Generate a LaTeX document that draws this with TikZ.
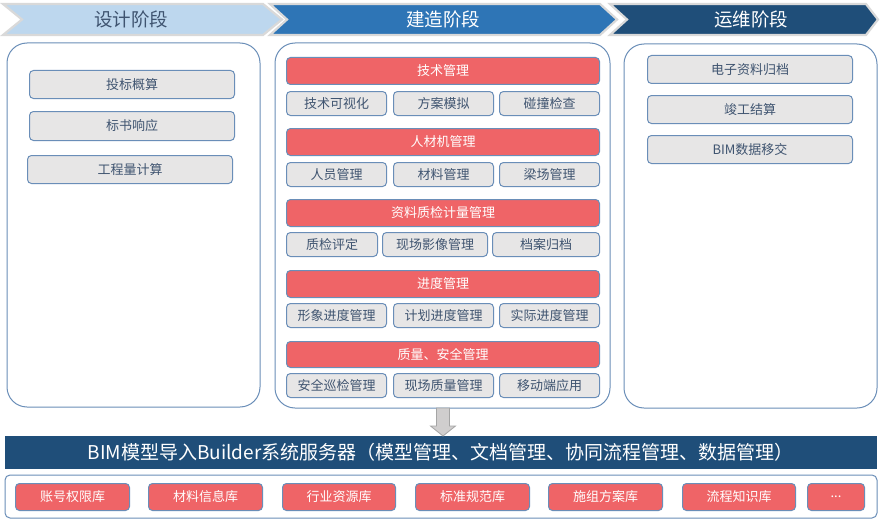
\documentclass[tikz,border=0pt]{standalone}
\usepackage{fontspec}
\setmainfont{Noto Sans CJK SC}
\usetikzlibrary{calc}
\definecolor{lblue}{HTML}{BDD7EE}
\definecolor{mblue}{HTML}{2E75B6}
\definecolor{dblue}{HTML}{1F4E79}
\definecolor{edgegray}{HTML}{D9D9D9}
\definecolor{boxline}{HTML}{6A8EB8}
\definecolor{boxfill}{HTML}{E7E6E6}
\definecolor{boxtext}{HTML}{3F5470}
\definecolor{redfill}{HTML}{EF6467}
\definecolor{arrowfill}{HTML}{D0CECE}
\definecolor{arrowline}{HTML}{A5A5A5}
\tikzset{
  chev/.style={draw=edgegray, line width=2.2pt, line join=miter},
  panel/.style={draw=boxline, line width=1pt, rounded corners=20pt, fill=white},
  gbox/.style={draw=boxline, line width=1pt, rounded corners=4pt, fill=boxfill, text=boxtext,
    font=\fontsize{13pt}{14pt}\selectfont, anchor=north west, inner sep=0pt},
  rbox/.style={draw=boxline, line width=1pt, rounded corners=4pt, fill=redfill, text=white,
    font=\fontsize{13pt}{14pt}\selectfont, anchor=north west, inner sep=0pt},
  banner/.style={font=\fontsize{18.5pt}{20pt}\selectfont},
}
\newcommand{\gb}[6]{\node[#1, minimum width=#4pt, minimum height=#5pt] (#2) at (#3) {#6};}
\begin{document}
\begin{tikzpicture}[x=1pt,y=-1pt]
\useasboundingbox (0,0) rectangle (881,519);
% chevrons
\fill[lblue] (3,4) -- (263,4) -- (282,19.5) -- (263,35) -- (3,35) -- (22,19.5) -- cycle;
\draw[chev] (3,4) -- (263,4) -- (282,19.5) -- (263,35) -- (3,35) -- (22,19.5) -- cycle;
\fill[mblue] (270,4) -- (600,4) -- (617,19.5) -- (600,35) -- (270,35) -- (287,19.5) -- cycle;
\draw[chev] (270,4) -- (600,4) -- (617,19.5) -- (600,35) -- (270,35) -- (287,19.5) -- cycle;
\fill[dblue] (610,4) -- (866,4) -- (878,19.5) -- (866,35) -- (610,35) -- (627,19.5) -- cycle;
\draw[chev] (610,4) -- (866,4) -- (878,19.5) -- (866,35) -- (610,35) -- (627,19.5) -- cycle;
\node[banner, text=boxtext] (b1) at (131,19.5) {设计阶段};
\node[banner, text=white] (b2) at (443,19.5) {建造阶段};
\node[banner, text=white] (b3) at (751,19.5) {运维阶段};
% panels
\draw[panel] (7,43) rectangle (260,407);
\draw[panel] (275,43) rectangle (610,408);
\draw[panel] (624,44) rectangle (877,408);
\coordinate (midS) at (443,408);
% left boxes
\gb{gbox}{l1}{29,70}{205}{28}{投标概算}
\gb{gbox}{l2}{29,111}{205}{29}{标书响应}
\gb{gbox}{l3}{27,155}{205}{28}{工程量计算}
% right boxes
\gb{gbox}{r1}{647,55}{205}{28}{电子资料归档}
\gb{gbox}{r2}{647,95}{205}{28}{竣工结算}
\gb{gbox}{r3}{647,135}{205}{28}{BIM数据移交}
% middle headers
\gb{rbox}{h1}{286,57}{313}{27}{技术管理}
\gb{rbox}{h2}{286,128}{313}{27}{人材机管理}
\gb{rbox}{h3}{286,199}{313}{27}{资料质检计量管理}
\gb{rbox}{h4}{286,270}{313}{27}{进度管理}
\gb{rbox}{h5}{286,341}{313}{26}{质量、安全管理}
% rows
\gb{gbox}{a1}{286,91}{100}{24}{技术可视化}
\gb{gbox}{a2}{393,91}{100}{24}{方案模拟}
\gb{gbox}{a3}{499,91}{100}{24}{碰撞检查}
\gb{gbox}{c1}{286,162}{100}{24}{人员管理}
\gb{gbox}{c2}{393,162}{100}{24}{材料管理}
\gb{gbox}{c3}{499,162}{100}{24}{梁场管理}
\gb{gbox}{d1}{286,232}{91}{24}{质检评定}
\gb{gbox}{d2}{382,232}{105}{24}{现场影像管理}
\gb{gbox}{d3}{492,232}{107}{24}{档案归档}
\gb{gbox}{e1}{286,303}{100}{24}{形象进度管理}
\gb{gbox}{e2}{393,303}{100}{24}{计划进度管理}
\gb{gbox}{e3}{499,303}{100}{24}{实际进度管理}
\gb{gbox}{f1}{286,373}{100}{24}{安全巡检管理}
\gb{gbox}{f2}{393,373}{100}{24}{现场质量管理}
\gb{gbox}{f3}{499,373}{100}{24}{移动端应用}
% bar
\node[fill=dblue, draw=dblue, text=white, anchor=north west, minimum width=871pt, minimum height=32pt, inner sep=0pt,
  font=\fontsize{19pt}{20pt}\selectfont] (bar) at (5,436) {BIM模型导入Builder系统服务器（模型管理、文档管理、协同流程管理、数据管理）};
% arrow
\draw[fill=arrowfill, draw=arrowline, line width=0.8pt]
  ($(midS)+(-6.5,0)$) -- ($(midS)+(6.5,0)$) -- ($(midS)+(6.5,18)$) -- ($(midS)+(12.5,18)$)
  -- (bar.north -| midS) -- ($(midS)+(-12.5,18)$) -- ($(midS)+(-6.5,18)$) -- cycle;
% library panel
\draw[draw=boxline, line width=1pt, rounded corners=5pt, fill=white] (5,475) rectangle (877,518);
\gb{rbox}{k1}{15,483}{114}{27}{账号权限库}
\gb{rbox}{k2}{148,483}{114}{27}{材料信息库}
\gb{rbox}{k3}{282,483}{113}{27}{行业资源库}
\gb{rbox}{k4}{415,483}{114}{27}{标准规范库}
\gb{rbox}{k5}{548,483}{114}{27}{施组方案库}
\gb{rbox}{k6}{682,483}{113}{27}{流程知识库}
\gb{rbox}{k7}{807,483}{57}{27}{...}
\end{tikzpicture}
\end{document}
